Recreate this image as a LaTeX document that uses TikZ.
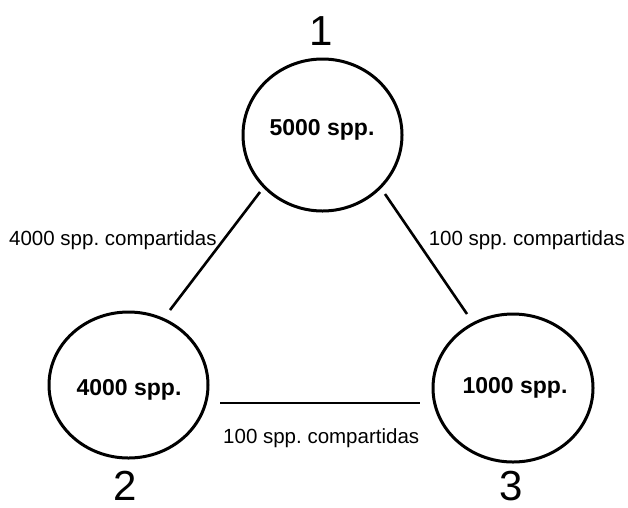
\documentclass[tikz,border=0pt]{standalone}
\usepackage{fontspec}
\setmainfont{Liberation Sans}
\usetikzlibrary{shapes.geometric}
\frenchspacing
\begin{document}
\begin{tikzpicture}[x=1pt,y=-1pt,
  pool/.style={draw=black, line width=3pt, ellipse, inner sep=0pt},
  poollabel/.style={font=\fontsize{23}{26}\selectfont\bfseries},
  bignum/.style={font=\fontsize{42}{46}\selectfont, inner sep=0pt},
  edgelabel/.style={font=\fontsize{20.5}{24}\selectfont, inner sep=0pt},
  link/.style={draw=black, line width=2.6pt}]
\useasboundingbox (0,0) rectangle (628,507);
\fill[white] (0,0) rectangle (628,507);
% pools
\node[pool, minimum width=159pt, minimum height=152pt] (p1) at (322.5,135) {};
\node[pool, minimum width=159pt, minimum height=146pt] (p2) at (128.5,385) {};
\node[pool, minimum width=160pt, minimum height=148pt] (p3) at (513,388) {};
\node[poollabel] (t1) at (322,130) {5000 spp.};
\node[poollabel] (t2) at (129,390) {4000 spp.};
\node[poollabel] (t3) at (515,388) {1000 spp.};
% numbers
\node[bignum] (n1) at (321,31) {1};
\node[bignum] (n2) at (125,486) {2};
\node[bignum] (n3) at (511,486) {3};
% connectors
\coordinate (a1) at (260,192);
\coordinate (a2) at (170,310);
\coordinate (b1) at (385,194);
\coordinate (b2) at (467,314);
\coordinate (c1) at (220,403);
\coordinate (c2) at (420,403);
\draw[link] (a1) -- (a2);
\draw[link] (b1) -- (b2);
\draw[link] (c1) -- (c2);
% edge labels
\node[edgelabel, anchor=west] (e12) at (9,240) {4000 spp. compartidas};
\node[edgelabel, anchor=east] (e13) at (625,240) {100 spp. compartidas};
\node[edgelabel, anchor=west] (e23) at (223,438) {100 spp. compartidas};
\end{tikzpicture}
\end{document}
